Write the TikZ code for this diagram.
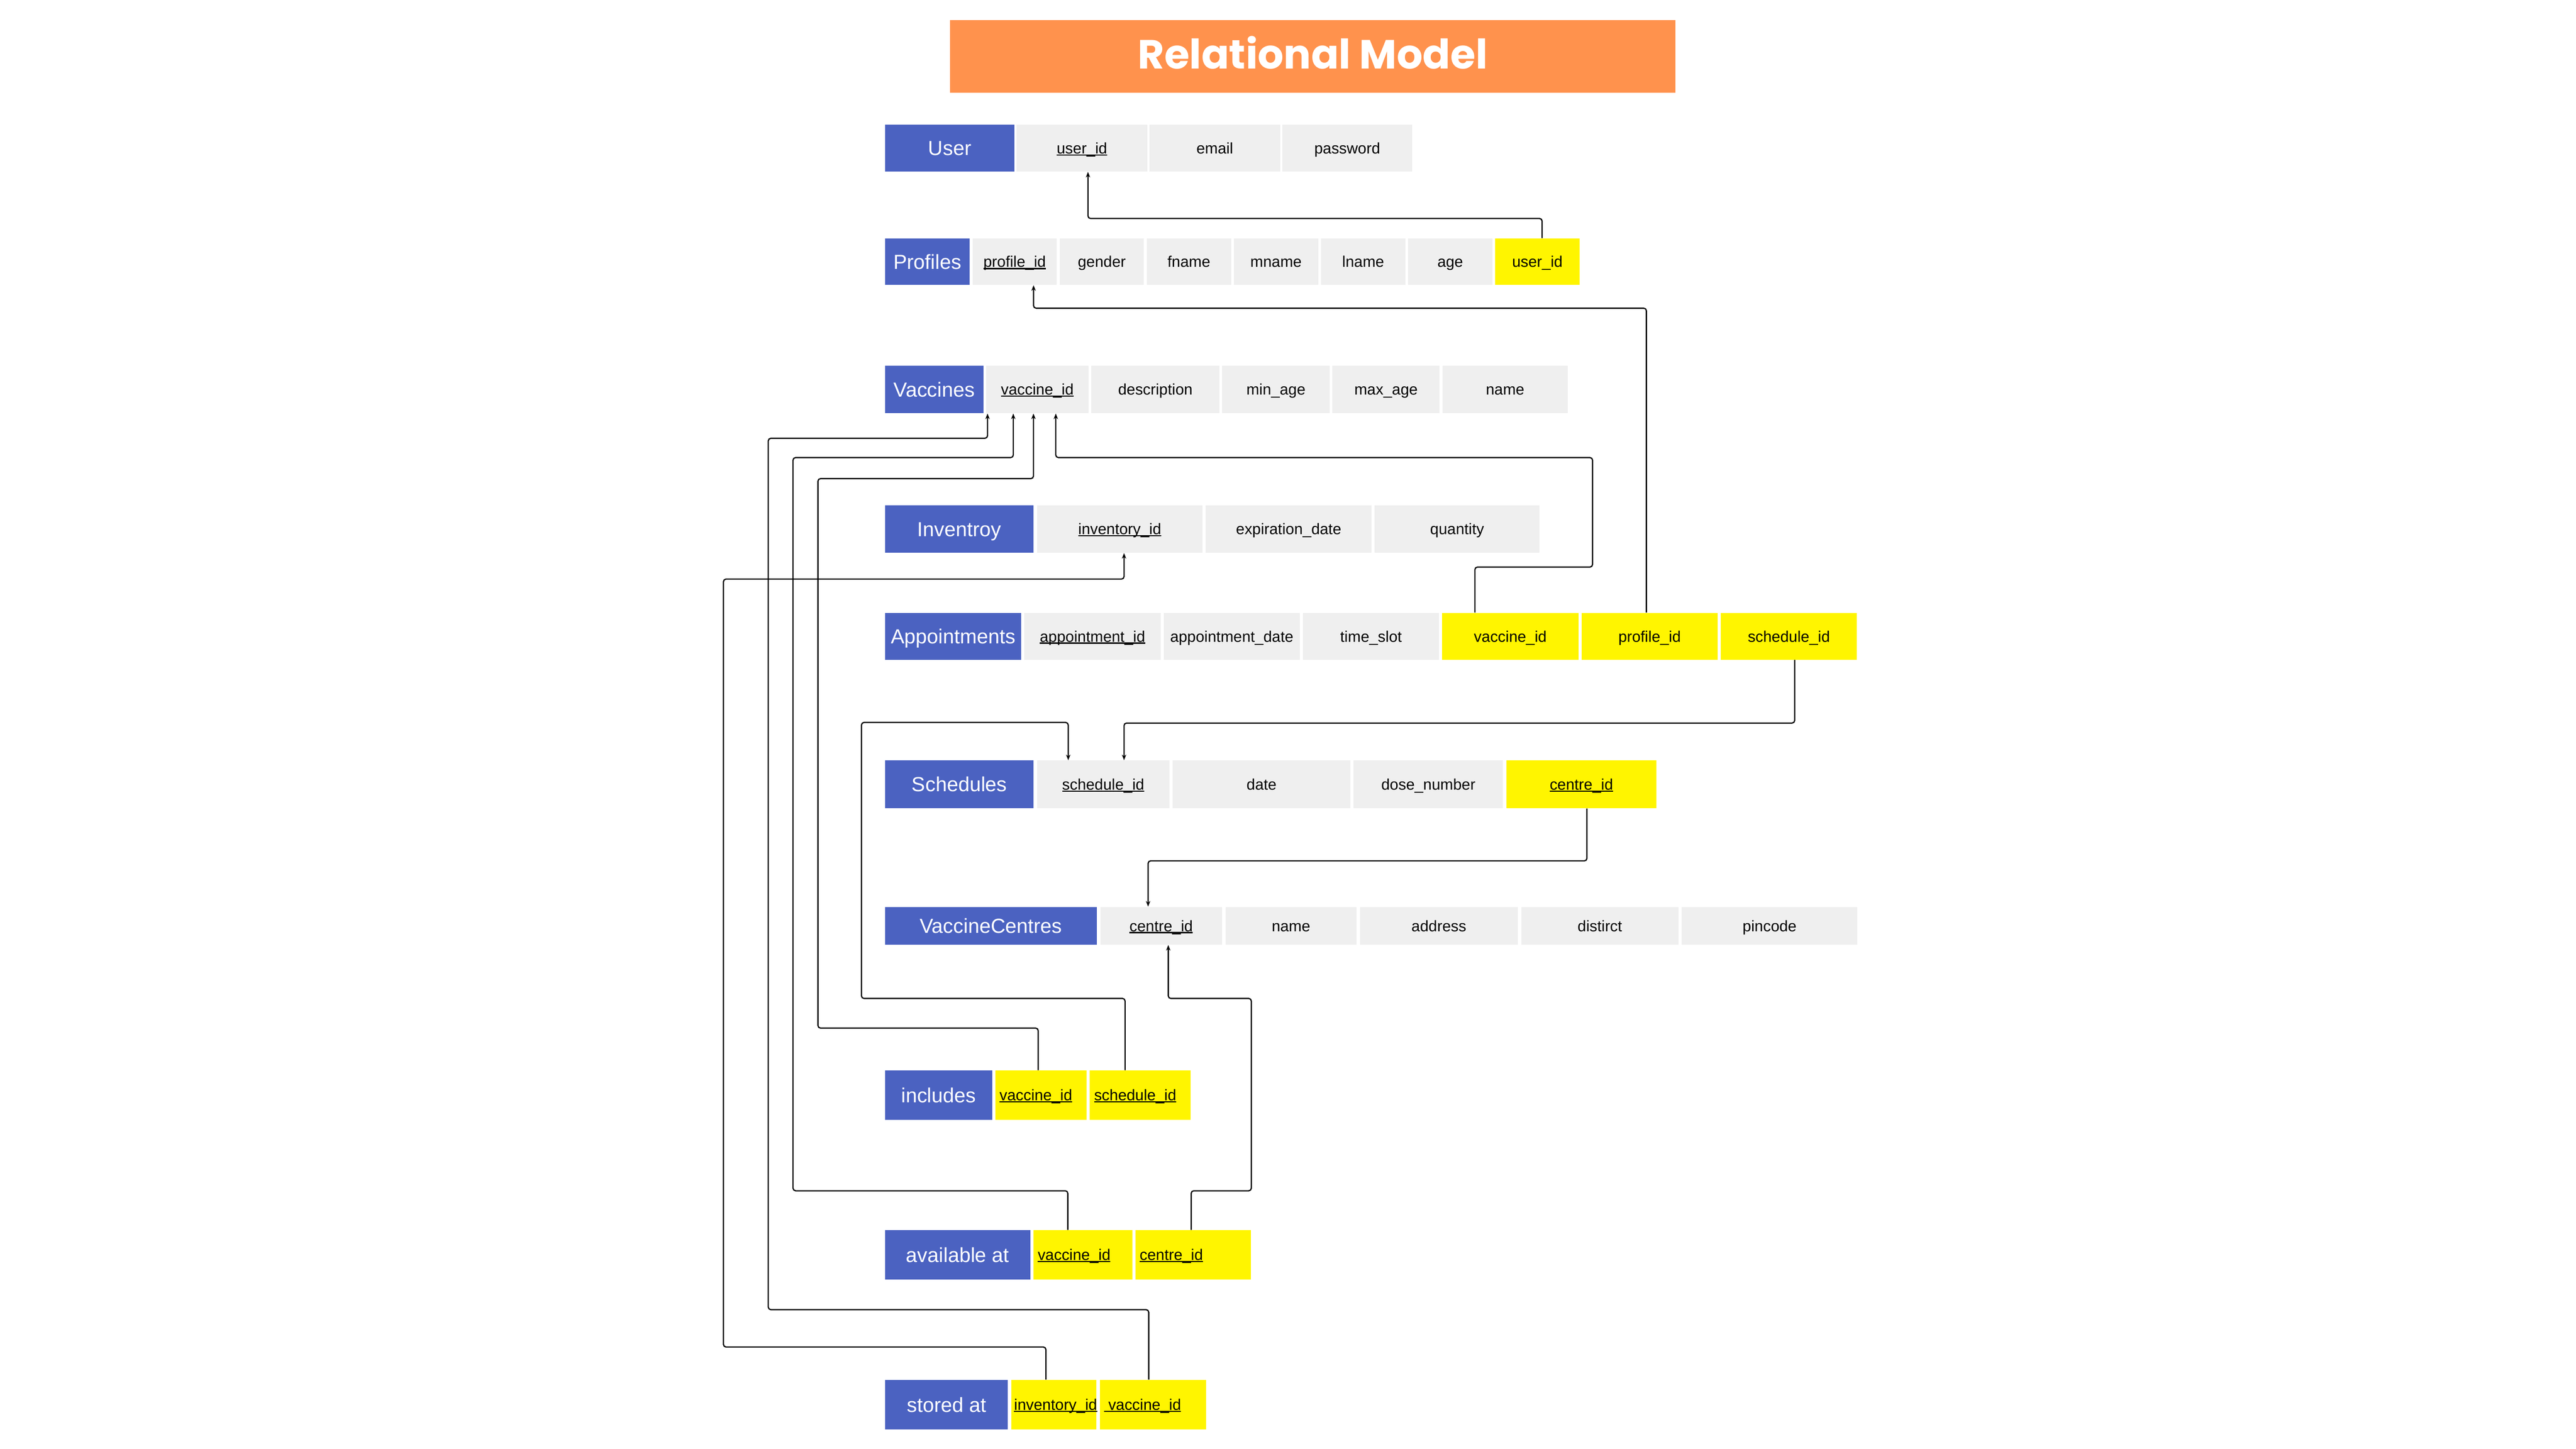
\documentclass[tikz,border=0pt]{standalone}
\usepackage{fontspec}
\setmainfont{Liberation Sans}
\newfontfamily\titlefont{Poppins}
\usetikzlibrary{positioning,arrows.meta}

\definecolor{tablehead}{RGB}{75,98,193}
\definecolor{keyyellow}{RGB}{255,245,0}
\definecolor{cellgrey}{RGB}{239,239,239}
\definecolor{titleorange}{RGB}{255,146,77}

\newcommand{\keyul}[1]{\sbox0{#1}\rlap{\rule[-0.12em]{\wd0}{0.08em}}\usebox0}
\newcommand{\leftkey}[2]{\makebox[#1][l]{\keyul{#2}}}

\tikzstyle{tblhead} = [rectangle, fill=tablehead, text=white, minimum height=1.1cm, inner sep=0pt, anchor=north west, text height=0.34cm, text depth=0pt, font=\fontsize{13.5}{16}\selectfont]
\tikzstyle{tblattr} = [rectangle, fill=cellgrey, minimum height=1.1cm, inner sep=0pt, text height=0.26cm, text depth=0pt, font=\fontsize{10.2}{12}\selectfont]
\tikzstyle{tblfkey} = [tblattr, fill=keyyellow]
\tikzstyle{fkline} = [draw, line width=0.8pt, rounded corners=0.06cm, -{Stealth[length=0.13cm, width=0.1cm]}]

\begin{document}
\begin{tikzpicture}
	\useasboundingbox (0,0) rectangle (60,-33.75);
	
	\node [fill=titleorange, minimum width=16.9cm, minimum height=1.69cm, anchor=north west, inner sep=0pt, text height=0.59cm, text depth=0pt, text=white, font=\titlefont\bfseries\fontsize{27}{32}\selectfont] (title) at (22.12,-0.46) {Relational Model};
	
	
	\node [tblhead, minimum width=3.01cm, minimum height=1.09cm] (u-head) at (20.61,-2.90) {User};
	\node [tblattr, minimum width=3.04cm, minimum height=1.09cm, right=0.04cm of u-head] (u-uid) {\keyul{user\_id}};
	\node [tblattr, minimum width=3.04cm, minimum height=1.09cm, right=0.04cm of u-uid] (u-mail) {email};
	\node [tblattr, minimum width=3.02cm, minimum height=1.09cm, right=0.04cm of u-mail] (u-pass) {password};
	
	
	\node [tblhead, minimum width=1.97cm, minimum height=1.08cm] (p-head) at (20.61,-5.55) {Profiles};
	\node [tblattr, minimum width=1.965cm, minimum height=1.08cm, right=0.05cm of p-head] (p-pid) {\keyul{profile\_id}};
	\node [tblattr, minimum width=1.965cm, minimum height=1.08cm, right=0.05cm of p-pid] (p-gen) {gender};
	\node [tblattr, minimum width=1.965cm, minimum height=1.08cm, right=0.05cm of p-gen] (p-fn) {fname};
	\node [tblattr, minimum width=1.965cm, minimum height=1.08cm, right=0.05cm of p-fn] (p-mn) {mname};
	\node [tblattr, minimum width=1.965cm, minimum height=1.08cm, right=0.05cm of p-mn] (p-ln) {lname};
	\node [tblattr, minimum width=1.965cm, minimum height=1.08cm, right=0.05cm of p-ln] (p-age) {age};
	\node [tblfkey, minimum width=1.965cm, minimum height=1.08cm, right=0.05cm of p-age] (p-uid) {user\_id};
	\path [fkline] ([xshift=0.11cm]p-uid.north) -- ++(0,0.46) -| ([xshift=0.14cm]u-uid.south);
	
	
	\node [tblhead, minimum width=2.29cm, minimum height=1.11cm] (v-head) at (20.61,-8.51) {Vaccines};
	\node [tblattr, minimum width=2.38cm, minimum height=1.11cm, right=0.05cm of v-head] (v-vid) {\keyul{vaccine\_id}};
	\node [tblattr, minimum width=2.99cm, minimum height=1.11cm, right=0.05cm of v-vid] (v-desc) {description};
	\node [tblattr, minimum width=2.50cm, minimum height=1.11cm, right=0.05cm of v-desc] (v-min) {min\_age};
	\node [tblattr, minimum width=2.50cm, minimum height=1.11cm, right=0.05cm of v-min] (v-max) {max\_age};
	\node [tblattr, minimum width=2.92cm, minimum height=1.11cm, right=0.05cm of v-max] (v-name) {name};
	
	
	\node [tblhead, minimum width=3.46cm, minimum height=1.11cm] (inv-head) at (20.61,-11.76) {Inventroy};
	\node [tblattr, minimum width=3.86cm, minimum height=1.11cm, right=0.06cm of inv-head] (inv-iid) {\keyul{inventory\_id}};
	\node [tblattr, minimum width=3.86cm, minimum height=1.11cm, right=0.06cm of inv-iid] (inv-exp) {expiration\_date};
	\node [tblattr, minimum width=3.84cm, minimum height=1.11cm, right=0.06cm of inv-exp] (inv-qty) {quantity};
	
	
	\node [tblhead, minimum width=3.17cm, minimum height=1.09cm] (a-head) at (20.61,-14.27) {Appointments};
	\node [tblattr, minimum width=3.17cm, minimum height=1.09cm, right=0.06cm of a-head] (a-aid) {\keyul{appointment\_id}};
	\node [tblattr, minimum width=3.17cm, minimum height=1.09cm, right=0.06cm of a-aid] (a-date) {appointment\_date};
	\node [tblattr, minimum width=3.17cm, minimum height=1.09cm, right=0.06cm of a-date] (a-slot) {time\_slot};
	\node [tblfkey, minimum width=3.17cm, minimum height=1.09cm, right=0.06cm of a-slot] (a-vid) {vaccine\_id};
	\node [tblfkey, minimum width=3.17cm, minimum height=1.09cm, right=0.06cm of a-vid] (a-pid) {profile\_id};
	\node [tblfkey, minimum width=3.17cm, minimum height=1.09cm, right=0.06cm of a-pid] (a-sid) {schedule\_id};
	\path [fkline] ([xshift=-0.075cm]a-pid.north) -- ++(0,7.09) -| ([xshift=0.44cm]p-pid.south);
	\path [fkline] ([xshift=-0.825cm]a-vid.north) -- ++(0,1.06) -| ++(2.74,2.55) -| ([xshift=0.43cm]v-vid.south);
	
	
	\node [tblhead, minimum width=3.46cm, minimum height=1.11cm] (s-head) at (20.61,-17.71) {Schedules};
	\node [tblattr, minimum width=3.09cm, minimum height=1.11cm, right=0.06cm of s-head] (s-sid) {\keyul{schedule\_id}};
	\node [tblattr, minimum width=4.14cm, minimum height=1.11cm, right=0.06cm of s-sid] (s-date) {date};
	\node [tblattr, minimum width=3.48cm, minimum height=1.11cm, right=0.06cm of s-date] (s-dose) {dose\_number};
	\node [tblfkey, minimum width=3.50cm, minimum height=1.11cm, right=0.06cm of s-dose] (s-cid) {\keyul{centre\_id}};
	\path [fkline] ([xshift=0.135cm]a-sid.south) -- ++(0,-1.47) -| ([xshift=0.485cm]s-sid.north);
	
	
	\node [tblhead, minimum width=4.93cm, minimum height=0.88cm] (vc-head) at (20.61,-21.12) {VaccineCentres};
	\node [tblattr, minimum width=2.84cm, minimum height=0.88cm, right=0.065cm of vc-head] (vc-cid) {\keyul{centre\_id}};
	\node [tblattr, minimum width=3.05cm, minimum height=0.88cm, right=0.065cm of vc-cid] (vc-name) {name};
	\node [tblattr, minimum width=3.68cm, minimum height=0.88cm, right=0.065cm of vc-name] (vc-addr) {address};
	\node [tblattr, minimum width=3.66cm, minimum height=0.88cm, right=0.065cm of vc-addr] (vc-dist) {distirct};
	\node [tblattr, minimum width=4.09cm, minimum height=0.88cm, right=0.065cm of vc-dist] (vc-pin) {pincode};
	\path [fkline] ([xshift=0.13cm]s-cid.south) -- ++(0,-1.22) -| ([xshift=-0.305cm]vc-cid.north);
	
	
	\node [tblhead, minimum width=2.49cm, minimum height=1.15cm] (inc-head) at (20.61,-24.93) {includes};
	\node [tblfkey, minimum width=2.13cm, minimum height=1.15cm, right=0.06cm of inc-head] (inc-vid) {\leftkey{1.93cm}{vaccine\_id}};
	\node [tblfkey, minimum width=2.35cm, minimum height=1.15cm, right=0.06cm of inc-vid] (inc-sid) {\leftkey{2.15cm}{schedule\_id}};
	\path [fkline] ([xshift=-0.355cm]inc-sid.north) -- ++(0,1.67) -| ++(-6.14,6.43) -| ([xshift=-0.815cm]s-sid.north);
	\path [fkline] ([xshift=-0.065cm]inc-vid.north) -- ++(0,0.98) -| ++(-5.13,12.80) -| ([xshift=-0.09cm]v-vid.south);
	
	
	\node [tblhead, minimum width=3.38cm, minimum height=1.15cm] (av-head) at (20.61,-28.65) {available at};
	\node [tblfkey, minimum width=2.30cm, minimum height=1.15cm, right=0.06cm of av-head] (av-vid) {\leftkey{2.10cm}{vaccine\_id}};
	\node [tblfkey, minimum width=2.69cm, minimum height=1.15cm, right=0.06cm of av-vid] (av-cid) {\leftkey{2.49cm}{centre\_id}};
	\path [fkline] ([xshift=-0.35cm]av-vid.north) -- ++(0,0.91) -| ++(-6.40,17.08) -| ([xshift=-0.56cm]v-vid.south);
	\path [fkline] ([xshift=-0.045cm]av-cid.north) -- ++(0,0.91) -| ++(1.40,4.48) -| ([xshift=0.165cm]vc-cid.south);
	
	
	\node [tblhead, minimum width=2.86cm, minimum height=1.15cm] (st-head) at (20.61,-32.14) {stored at};
	\node [tblfkey, minimum width=1.99cm, minimum height=1.15cm, right=0.06cm of st-head] (st-iid) {\leftkey{1.85cm}{inventory\_id}};
	\node [tblfkey, minimum width=2.48cm, minimum height=1.15cm, right=0.06cm of st-iid] (st-vid) {\leftkey{2.28cm}{\ vaccine\_id}};
	\path [fkline] ([xshift=-0.10cm]st-vid.north) -- ++(0,1.63) -| ++(-8.86,20.30) -| ([xshift=-1.16cm]v-vid.south);
	\path [fkline] ([xshift=-0.185cm]st-iid.north) -- ++(0,0.76) -| ++(-7.51,17.89) -| ([xshift=0.10cm]inv-iid.south);
\end{tikzpicture}
\end{document}
